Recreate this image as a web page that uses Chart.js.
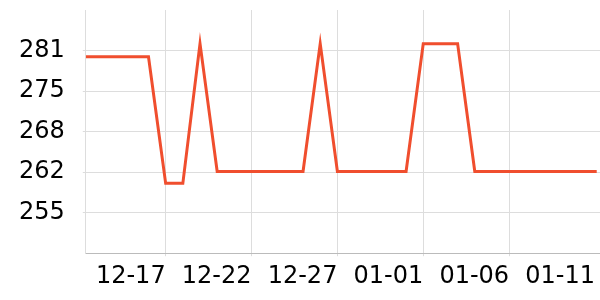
<!DOCTYPE html>
<html>
<head>
    <title>Daily value</title>
    <script src="https://cdn.jsdelivr.net/npm/chart.js"></script>
    <style>
        body { margin: 0; background: #fff; }
    </style>
</head>
<body>
    <canvas id="value_chart" width="600" height="300"></canvas>
    <script>
        const dates = ['2023-12-12T08:24', '2023-12-16T00:00', '2023-12-17T00:00', '2023-12-18T00:00',
                       '2023-12-19T00:00', '2023-12-20T00:00', '2023-12-25T00:00', '2023-12-26T00:00',
                       '2023-12-27T00:00', '2023-12-31T00:00', '2024-01-01T00:00', '2024-01-03T00:00',
                       '2024-01-04T00:00', '2024-01-11T02:24'];
        const values = [280, 280, 259.7, 259.7, 282.1, 261.6, 261.6, 282.1, 261.6, 261.6, 282.1, 282.1, 261.6, 261.6];
        const x_tick_dates = ['2023-12-17', '2023-12-22', '2023-12-27', '2024-01-01', '2024-01-06', '2024-01-11'];
        const y_ticks = [255, 261.5, 268, 274.5, 281];
        const x_range = ['2023-12-12T08:24', '2024-01-11T07:00'];
        const y_range = [248.5, 287.5];

        const DAY = 86400000;

        function toDays(s) {
            if (s.length == 10) s += 'T00:00';
            return Date.parse(s + ':00Z') / DAY;
        }

        function dayLabel(v) {
            const d = new Date(Math.round(v * DAY));
            const mm = String(d.getUTCMonth() + 1).padStart(2, '0');
            const dd = String(d.getUTCDate()).padStart(2, '0');
            return mm + '-' + dd;
        }

        // chart.js reserves room for half labels + padding at the edges, we don't want that
        function noEdgePadding(s) {
            s.paddingTop = 0;
            s.paddingBottom = 0;
            s.paddingLeft = 0;
            s.paddingRight = 0;
        }

        const tick_font = { family: 'DejaVu Sans', size: 24 };

        const ctx = document.getElementById('value_chart');
        new Chart(ctx, {
            type: 'line',
            data: {
                datasets: [{
                    data: dates.map((d, i) => ({ x: toDays(d), y: values[i] })),
                    borderColor: '#f04e2e',
                    borderWidth: 3,
                    pointRadius: 0,
                    tension: 0
                }]
            },
            options: {
                responsive: false,
                animation: false,
                layout: { padding: { left: 1, top: 10, right: 0, bottom: 3 } },
                plugins: { legend: { display: false }, tooltip: { enabled: false } },
                scales: {
                    x: {
                        type: 'linear',
                        min: toDays(x_range[0]),
                        max: toDays(x_range[1]),
                        afterBuildTicks: s => { s.ticks = x_tick_dates.map(d => ({ value: toDays(d) })); },
                        afterFit: noEdgePadding,
                        grid: {
                            color: c => c.index === x_tick_dates.length - 1 ? 'rgba(0,0,0,0)' : '#dddddd',
                            tickLength: 3
                        },
                        border: { color: '#bbbbbb' },
                        ticks: {
                            align: 'end', maxRotation: 0, autoSkip: false, padding: 6,
                            color: '#000', font: tick_font,
                            callback: v => dayLabel(v)
                        }
                    },
                    y: {
                        min: y_range[0],
                        max: y_range[1],
                        afterBuildTicks: s => { s.ticks = y_ticks.map(v => ({ value: v })); },
                        afterFit: noEdgePadding,
                        grid: { color: '#dddddd', tickLength: 3 },
                        border: { color: '#dddddd' },
                        ticks: {
                            padding: 18, color: '#000', font: tick_font,
                            callback: v => Math.round(v)
                        }
                    }
                }
            }
        });
    </script>
</body>
</html>
